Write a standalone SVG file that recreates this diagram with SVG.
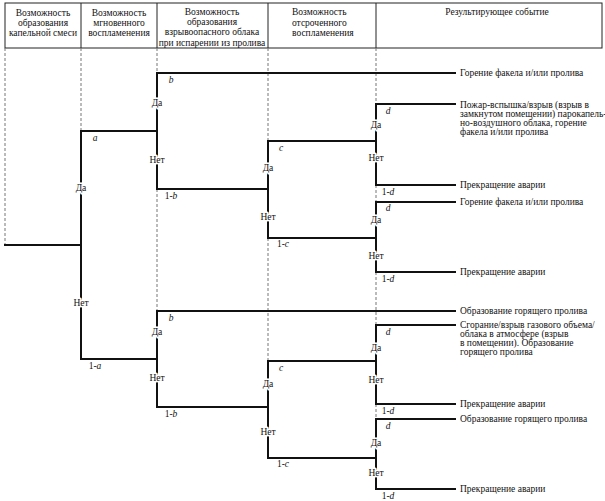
<svg xmlns="http://www.w3.org/2000/svg" width="605" height="501" viewBox="0 0 605 501">
<style>
text{font-family:"Liberation Serif","Times New Roman",serif;font-size:9.5px;fill:#111}
.c{text-anchor:middle}
.yn{text-anchor:middle;stroke:#fff;stroke-width:3;paint-order:stroke;stroke-linejoin:round}
.i{font-style:italic}
.guide{stroke:#777;stroke-width:1;stroke-dasharray:3 2;fill:none}
.tree{stroke:#111;stroke-width:2;fill:none;stroke-linecap:square}
.hdr{stroke:#222;stroke-width:1;fill:none}
</style>
<rect width="605" height="501" fill="#fff"/>
<g id="header">
<rect class="hdr" x="5" y="3" width="597" height="45"/>
<path class="hdr" d="M81 3V48M157 3V48M268 3V48M376 3V48"/>
<text class="c" x="43" y="16">Возможность</text>
<text class="c" x="43" y="26">образования</text>
<text class="c" x="43" y="36">капельной смеси</text>
<text class="c" x="119" y="16">Возможность</text>
<text class="c" x="119" y="26">мгновенного</text>
<text class="c" x="119" y="36">воспламенения</text>
<text class="c" x="212" y="15">Возможность</text>
<text class="c" x="212" y="25">образования</text>
<text class="c" x="212" y="35">взрывоопасного облака</text>
<text class="c" x="212" y="46">при испарении из пролива</text>
<text x="292" y="15">Возможность</text>
<text x="292" y="26">отсроченного</text>
<text x="292" y="36">воспламенения</text>
<text class="c" x="497" y="15">Результирующее событие</text>
</g>
<g id="guides">
<path class="guide" d="M5 48V245M81 48V131M157 48V73M157 189V311M268 48V141M268 238V361M376 48V104M376 185V202M376 272V325M376 404V419"/>
</g>
<g id="connectors">
<path class="tree" d="M5 245H81"/>
<path class="tree" d="M157 131H81V359H157"/>
<path class="tree" d="M455 73H157V189H268"/>
<path class="tree" d="M376 141H268V238H376"/>
<path class="tree" d="M455 104H376V185H455"/>
<path class="tree" d="M455 202H376V272H455"/>
<path class="tree" d="M455 311H157V407H268"/>
<path class="tree" d="M376 361H268V458H376"/>
<path class="tree" d="M455 325H376V404H455"/>
<path class="tree" d="M455 419H376V489H455"/>
</g>
<g id="node-a">
<text class="c i" x="95" y="141">a</text>
<text class="yn" x="81" y="191">Да</text>
<text class="yn" x="81" y="306">Нет</text>
<text class="c" x="95" y="369">1-<tspan class="i">a</tspan></text>
</g>
<g id="node-b1">
<text class="c i" x="171" y="83">b</text>
<text class="yn" x="157" y="106">Да</text>
<text class="yn" x="157" y="163">Нет</text>
<text class="c" x="171" y="199">1-<tspan class="i">b</tspan></text>
</g>
<g id="node-c1">
<text class="c i" x="281" y="151">c</text>
<text class="yn" x="268" y="171">Да</text>
<text class="yn" x="268" y="220">Нет</text>
<text class="c" x="283" y="247">1-<tspan class="i">c</tspan></text>
</g>
<g id="node-d1">
<text class="c i" x="388" y="114">d</text>
<text class="yn" x="376" y="128">Да</text>
<text class="yn" x="376" y="161">Нет</text>
<text class="c" x="388" y="195">1-<tspan class="i">d</tspan></text>
</g>
<g id="node-d2">
<text class="c i" x="388" y="211">d</text>
<text class="yn" x="376" y="223">Да</text>
<text class="yn" x="376" y="259">Нет</text>
<text class="c" x="388" y="282">1-<tspan class="i">d</tspan></text>
</g>
<g id="node-b2">
<text class="c i" x="171" y="321">b</text>
<text class="yn" x="157" y="335">Да</text>
<text class="yn" x="157" y="381">Нет</text>
<text class="c" x="171" y="417">1-<tspan class="i">b</tspan></text>
</g>
<g id="node-c2">
<text class="c i" x="281" y="371">c</text>
<text class="yn" x="268" y="387">Да</text>
<text class="yn" x="268" y="435">Нет</text>
<text class="c" x="283" y="467">1-<tspan class="i">c</tspan></text>
</g>
<g id="node-d3">
<text class="c i" x="388" y="335">d</text>
<text class="yn" x="376" y="351">Да</text>
<text class="yn" x="376" y="383">Нет</text>
<text class="c" x="388" y="414">1-<tspan class="i">d</tspan></text>
</g>
<g id="node-d4">
<text class="c i" x="388" y="429">d</text>
<text class="yn" x="376" y="446">Да</text>
<text class="yn" x="376" y="476">Нет</text>
<text class="c" x="388" y="499">1-<tspan class="i">d</tspan></text>
</g>
<g id="outcome-1"><text x="460" y="76">Горение факела и/или пролива</text></g>
<g id="outcome-2">
<text x="460" y="108">Пожар-вспышка/взрыв (взрыв в</text>
<text x="460" y="117">замкнутом помещении) парокапель-</text>
<text x="460" y="126">но-воздушного облака, горение</text>
<text x="460" y="135">факела и/или пролива</text>
</g>
<g id="outcome-3"><text x="460" y="188">Прекращение аварии</text></g>
<g id="outcome-4"><text x="460" y="205">Горение факела и/или пролива</text></g>
<g id="outcome-5"><text x="460" y="275">Прекращение аварии</text></g>
<g id="outcome-6"><text x="460" y="314">Образование горящего пролива</text></g>
<g id="outcome-7">
<text x="460" y="328">Сгорание/взрыв газового объема/</text>
<text x="460" y="337">облака в атмосфере (взрыв</text>
<text x="460" y="346">в помещении). Образование</text>
<text x="460" y="355">горящего пролива</text>
</g>
<g id="outcome-8"><text x="460" y="407">Прекращение аварии</text></g>
<g id="outcome-9"><text x="460" y="422">Образование горящего пролива</text></g>
<g id="outcome-10"><text x="460" y="492">Прекращение аварии</text></g>
</svg>
